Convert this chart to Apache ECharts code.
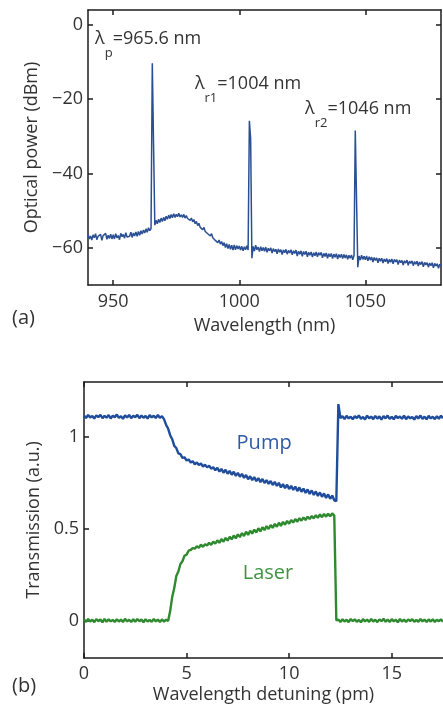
<!DOCTYPE html>
<html>
<head>
<meta charset="utf-8">
<script src="https://cdn.jsdelivr.net/npm/echarts@6/dist/echarts.min.js"></script>
<style>
html,body{margin:0;padding:0;background:#fff;}
#c{width:443px;height:713px;}
</style>
</head>
<body>
<div id="c"></div>
<script>
// ---------- (a) optical spectrum, sampled every 0.5 nm from 940 nm ----------
const specStart = 940;
const specStep = 0.5;
const specPower = [
  -56.3,-57.6,-56.8,-57.9,-56.5,-57.3,-56.2,-57.8,-56.9,-57.4,-56.4,-58.0,-56.7,-57.2,-56.1,-57.7,-56.6,-57.5,-56.3,-57.6,
  -56.5,-57.6,-56.2,-57.3,-56.7,-57.8,-56.1,-57.0,-56.4,-57.4,-55.9,-57.1,-56.6,-56.9,-55.8,-57.2,-56.0,-56.8,-55.7,-56.9,
  -55.6,-56.6,-55.4,-56.3,-55.2,-56.0,-54.9,-55.8,-54.6,-55.4,-54.8,-10.3,-10.8,-53.9,-52.6,-53.5,-52.3,-53.2,-52.0,-52.9,
  -51.8,-52.7,-51.5,-52.3,-51.2,-52.1,-51.0,-51.9,-50.8,-51.8,-51.0,-51.6,-50.7,-51.7,-51.1,-51.8,-51.0,-52.0,-51.3,-52.1,
  -51.6,-52.6,-52.0,-53.0,-52.4,-53.5,-52.9,-54.0,-53.4,-54.5,-54.0,-55.1,-54.5,-55.6,-55.2,-56.2,-55.7,-56.8,-56.2,-57.3,
  -56.9,-58.0,-57.5,-58.6,-57.9,-59.0,-58.3,-59.4,-58.6,-59.9,-58.9,-60.2,-59.1,-60.4,-59.3,-60.6,-59.2,-60.5,-59.4,-60.3,
  -59.5,-60.6,-59.6,-60.8,-59.7,-60.5,-59.4,-60.6,-25.8,-30.5,-62.8,-59.6,-60.9,-59.3,-60.5,-59.8,-61.0,-59.7,-60.8,-59.9,
  -60.9,-59.8,-61.2,-60.1,-60.8,-60.0,-61.4,-60.2,-61.0,-60.4,-61.6,-60.3,-61.2,-60.5,-61.8,-60.6,-61.3,-60.4,-61.7,-60.7,
  -61.4,-60.5,-61.9,-60.8,-61.5,-60.6,-62.2,-60.9,-61.7,-60.8,-62.3,-61.0,-61.8,-60.9,-62.4,-61.2,-62.0,-61.1,-62.5,-61.3,
  -62.1,-61.1,-62.4,-61.3,-62.0,-61.2,-62.7,-61.5,-62.3,-61.4,-62.8,-61.6,-62.4,-61.5,-62.9,-61.7,-62.5,-61.6,-63.0,-61.8,
  -62.6,-61.7,-62.9,-61.8,-62.7,-61.9,-63.1,-62.0,-62.8,-61.9,-63.2,-62.1,-28.4,-28.1,-65.2,-62.2,-63.3,-62.0,-63.1,-62.3,
  -63.2,-62.2,-63.5,-62.4,-63.3,-62.5,-63.8,-62.6,-63.4,-62.7,-64.0,-62.8,-63.6,-62.8,-64.1,-63.0,-63.7,-62.9,-64.2,-63.1,
  -63.9,-63.0,-64.3,-63.1,-63.8,-63.2,-64.5,-63.3,-64.0,-63.4,-64.6,-63.5,-64.1,-63.3,-64.7,-63.6,-64.2,-63.5,-64.8,-63.7,
  -64.4,-63.6,-64.9,-63.8,-64.5,-63.7,-65.1,-63.9,-64.6,-64.0,-65.2,-64.1,-64.8,-64.0,-65.4,-64.2,-64.9,-64.3,-65.5,-64.4,
  -64.9
];
const specTicksX = [950, 1000, 1050];
const specTicksY = [-60, -40, -20, 0];

// peak annotations: subscript, value text, anchor (left edge, text centre) in data units
const peakSub = ['p', 'r1', 'r2'];
const peakText = ['=965.6 nm', '=1004 nm', '=1046 nm'];
const peakLabelX = [942.8, 982.4, 1026.1];
const peakLabelY = [-4.1, -16.2, -22.9];

// ---------- (b) transmission vs detuning, sampled every 0.1 pm from 0 ----------
const detStep = 0.1;
const pumpTrans = [
  1.118,1.104,1.121,1.107,1.115,1.101,1.119,1.109,1.122,1.103,
  1.116,1.106,1.120,1.102,1.117,1.108,1.123,1.105,1.114,1.100,
  1.119,1.107,1.121,1.104,1.116,1.109,1.122,1.103,1.118,1.106,
  1.115,1.101,1.120,1.108,1.117,1.104,1.121,1.106,1.114,
  1.098,1.068,1.047,1.011,0.989,0.953,0.941,0.912,0.908,0.887,
  0.891,0.873,0.879,0.862,0.870,0.853,0.863,0.849,0.857,0.841,
  0.850,0.836,0.845,0.829,0.837,0.820,0.834,0.813,0.828,0.807,
  0.823,0.801,0.817,0.796,0.812,0.790,0.806,0.785,0.801,0.779,
  0.795,0.771,0.788,0.767,0.783,0.761,0.778,0.756,0.773,0.751,
  0.767,0.746,0.762,0.740,0.757,0.735,0.752,0.727,0.745,0.723,
  0.742,0.718,0.736,0.713,0.732,0.707,0.727,0.703,0.721,0.697,
  0.716,0.692,0.711,0.686,0.705,0.681,0.700,0.676,0.694,0.670,
  0.689,0.665,0.683,0.657,0.652,
  1.180,1.104,
  1.114,1.099,1.116,1.102,1.111,1.097,1.115,1.104,1.118,1.100,
  1.110,1.096,1.117,1.103,1.112,1.098,1.116,1.101,1.113,1.095,
  1.115,1.102,1.118,1.099,1.111,1.097,1.116,1.104,1.112,1.100,
  1.117,1.098,1.113,1.103,1.110,1.096,1.115,1.101,1.118,1.099,
  1.112,1.097,1.116,1.102,1.111,1.098,1.114,1.100,1.117,1.103
];
const laserTrans = [
  0.010,-0.004,0.012,-0.002,0.008,-0.005,0.011,0.000,0.009,-0.006,
  0.012,-0.003,0.010,-0.001,0.007,-0.004,0.011,-0.002,0.009,-0.005,
  0.013,-0.001,0.008,-0.004,0.010,-0.003,0.012,0.000,0.009,-0.006,
  0.011,-0.002,0.007,-0.004,0.012,-0.001,0.009,-0.005,0.010,-0.002,
  0.008,0.001,
  0.055,0.131,0.180,0.246,0.270,0.311,0.326,
  0.356,0.362,0.383,0.387,0.397,0.394,0.408,0.399,0.416,0.404,
  0.419,0.411,0.426,0.415,0.433,0.421,0.440,0.426,0.447,0.432,
  0.453,0.438,0.459,0.445,0.466,0.450,0.472,0.457,0.479,0.463,
  0.486,0.469,0.492,0.476,0.498,0.482,0.505,0.488,0.511,0.495,
  0.517,0.501,0.523,0.507,0.529,0.513,0.535,0.518,0.540,0.524,
  0.545,0.530,0.550,0.536,0.555,0.541,0.560,0.546,0.564,0.550,
  0.568,0.555,0.572,0.559,0.576,0.562,0.580,0.565,0.583,0.568,
  0.584,0.570,0.586,0.574,
  0.004,
  0.009,-0.004,0.011,-0.002,0.008,-0.005,0.012,0.000,0.010,-0.003,
  0.007,-0.006,0.011,-0.001,0.009,-0.004,0.012,-0.002,0.008,-0.005,
  0.010,0.000,0.013,-0.003,0.009,-0.004,0.011,-0.001,0.008,-0.006,
  0.012,-0.002,0.009,-0.005,0.010,0.000,0.011,-0.003,0.007,-0.004,
  0.012,-0.001,0.009,-0.005,0.010,-0.002,0.011,-0.004,0.008,0.000,
  0.010,-0.003
];
const detTicksX = [0, 5, 10, 15];
const detTicksY = [0, 0.5, 1];
const traceNames = ['Pump', 'Laser'];
const traceLabelX = [8.78, 8.97];
const traceLabelY = [0.968, 0.262];

// ---------- styling ----------
const FONT = 'Open Sans';
const AXIS_COLOR = '#1c1c1c';
const TEXT_COLOR = '#333';
const SPEC_COLOR = '#2a4f94';
const PUMP_COLOR = '#1f4d9c';
const LASER_COLOR = '#2f8a2f';

function minusSign(v) {
  return v < 0 ? '\u2212' + Math.abs(v) : String(v);
}

function axis(o) {
  return {
    type: 'value',
    gridIndex: o.grid,
    position: o.position,
    min: o.min,
    max: o.max,
    name: o.name || '',
    nameLocation: 'middle',
    nameGap: o.nameGap || 0,
    nameTextStyle: { fontFamily: FONT, fontSize: 18, color: TEXT_COLOR },
    axisLine: { show: true, onZero: false, lineStyle: { color: AXIS_COLOR, width: 1.5 } },
    splitLine: { show: false },
    axisTick: {
      show: true, inside: true, length: 5,
      customValues: o.ticks,
      lineStyle: { color: AXIS_COLOR, width: 1.5 }
    },
    axisLabel: {
      show: !!o.labels,
      customValues: o.ticks,
      margin: o.margin || 6,
      fontFamily: FONT, fontSize: 18, color: TEXT_COLOR,
      formatter: minusSign
    }
  };
}

const specData = specPower.map((v, i) => [specStart + i * specStep, v]);
const pumpData = pumpTrans.map((v, i) => [i * detStep, v]);
const laserData = laserTrans.map((v, i) => [i * detStep, v]);

const chart = echarts.init(document.getElementById('c'), null, { renderer: 'canvas' });

chart.setOption({
  animation: false,
  backgroundColor: '#fff',
  grid: [
    { left: 88, top: 10, width: 353, height: 275 },
    { left: 84, top: 382, width: 363, height: 276 }
  ],
  xAxis: [
    axis({ grid: 0, position: 'bottom', min: 940, max: 1080, ticks: specTicksX, labels: true, margin: 8,
           name: 'Wavelength (nm)', nameGap: 32 }),
    axis({ grid: 0, position: 'top', min: 940, max: 1080, ticks: specTicksX }),
    axis({ grid: 1, position: 'bottom', min: 0, max: 17.5, ticks: detTicksX, labels: true, margin: 7,
           name: 'Wavelength detuning (pm)', nameGap: 28 }),
    axis({ grid: 1, position: 'top', min: 0, max: 17.5, ticks: detTicksX })
  ],
  yAxis: [
    axis({ grid: 0, position: 'left', min: -70, max: 4, ticks: specTicksY, labels: true, margin: 5,
           name: 'Optical power (dBm)', nameGap: 44 }),
    axis({ grid: 0, position: 'right', min: -70, max: 4, ticks: specTicksY }),
    axis({ grid: 1, position: 'left', min: -0.2, max: 1.3, ticks: detTicksY, labels: true, margin: 5,
           name: 'Transmission (a.u.)', nameGap: 40 })
  ],
  series: [
    {
      type: 'line', xAxisIndex: 0, yAxisIndex: 0, data: specData,
      showSymbol: false, clip: true,
      lineStyle: { color: SPEC_COLOR, width: 1.5 }
    },
    {
      name: 'Pump', type: 'line', xAxisIndex: 2, yAxisIndex: 2, data: pumpData,
      showSymbol: false, clip: true,
      lineStyle: { color: PUMP_COLOR, width: 2.4 }
    },
    {
      name: 'Laser', type: 'line', xAxisIndex: 2, yAxisIndex: 2, data: laserData,
      showSymbol: false, clip: true,
      lineStyle: { color: LASER_COLOR, width: 2.4 }
    }
  ]
});

// text annotations anchored in data space
const graphics = [];
peakSub.forEach((sub, i) => {
  const p = chart.convertToPixel({ gridIndex: 0 }, [peakLabelX[i], peakLabelY[i]]);
  graphics.push({
    type: 'text', x: p[0], y: p[1] - 10, z: 10,
    style: {
      text: '{l|\u03bb}{s|' + sub + '}{t|' + peakText[i] + '}',
      align: 'left', verticalAlign: 'top',
      rich: {
        l: { fontFamily: FONT, fontSize: 18, fill: TEXT_COLOR, lineHeight: 20, verticalAlign: 'top' },
        s: { fontFamily: FONT, fontSize: 13, fill: TEXT_COLOR, lineHeight: 14, padding: [17, 0, 0, 0], verticalAlign: 'top' },
        t: { fontFamily: FONT, fontSize: 18, fill: TEXT_COLOR, lineHeight: 20, verticalAlign: 'top' }
      }
    }
  });
});
const traceColors = ['#2f5aa6', '#3f9440'];
traceNames.forEach((name, i) => {
  const p = chart.convertToPixel({ gridIndex: 1 }, [traceLabelX[i], traceLabelY[i]]);
  graphics.push({
    type: 'text', x: p[0], y: p[1], z: 10,
    style: {
      text: name, align: 'center', verticalAlign: 'middle',
      fontFamily: FONT, fontSize: 20, fill: traceColors[i]
    }
  });
});
// panel tags
graphics.push(
  { type: 'text', left: 12, top: 308, style: { text: '(a)', fontFamily: FONT, fontSize: 20, fill: TEXT_COLOR } },
  { type: 'text', left: 12, top: 676, style: { text: '(b)', fontFamily: FONT, fontSize: 20, fill: TEXT_COLOR } }
);
chart.setOption({ graphic: graphics });
</script>
</body>
</html>
